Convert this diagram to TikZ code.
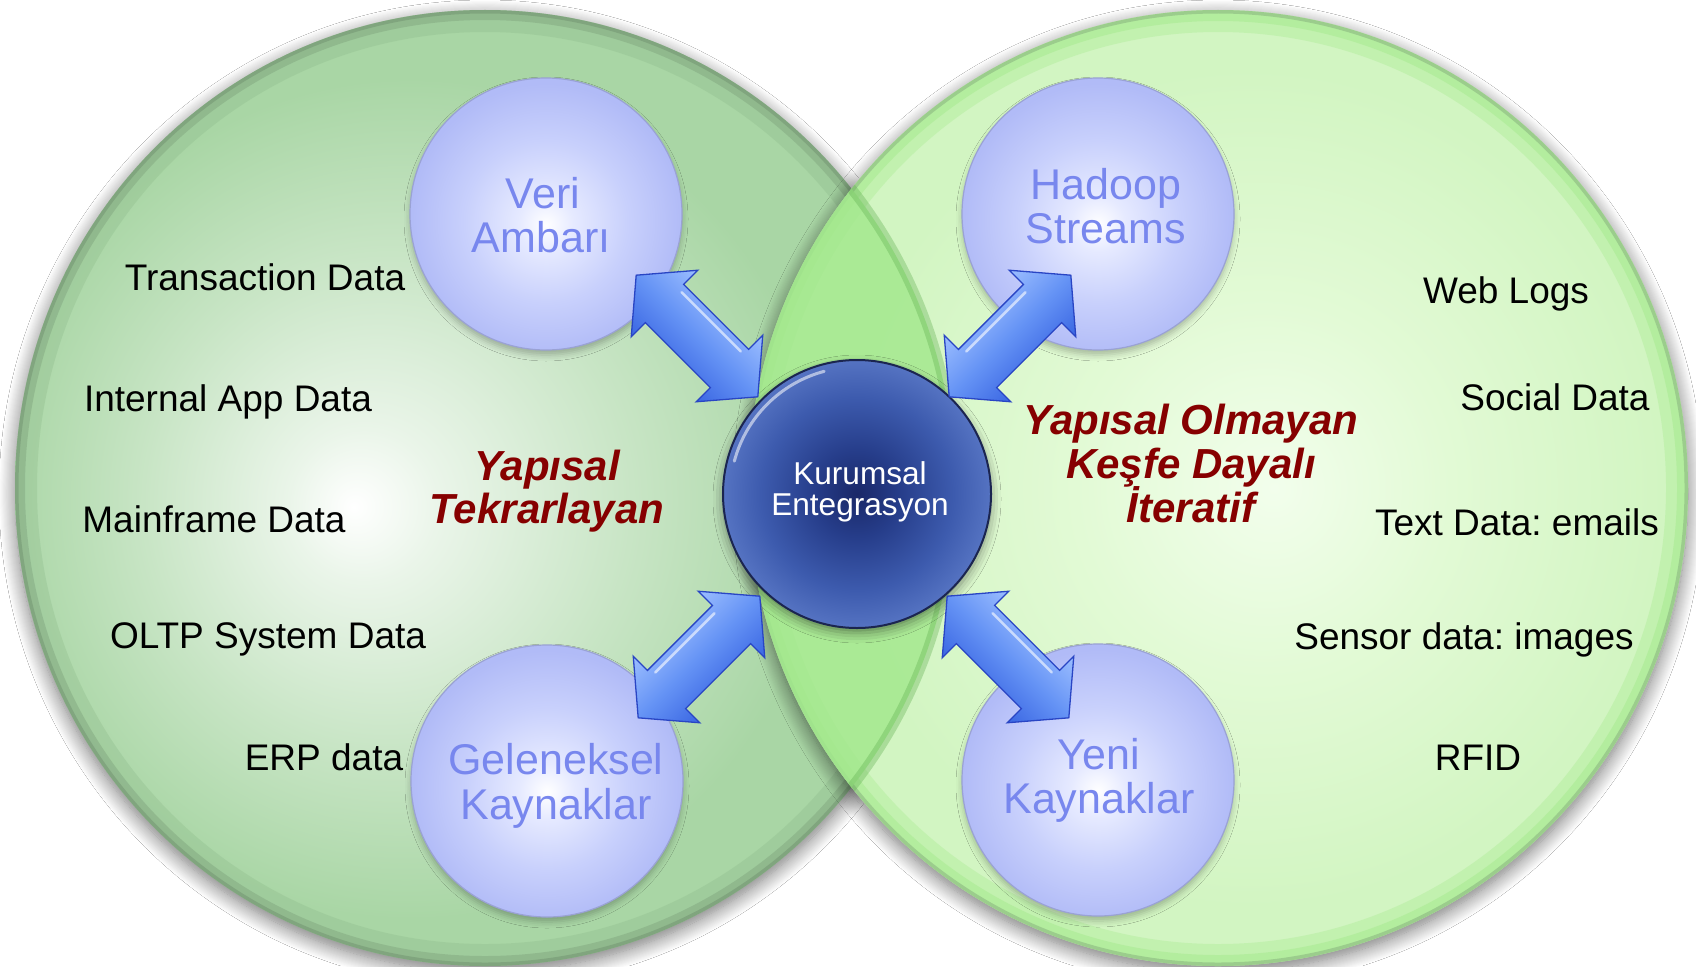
\documentclass[tikz,border=0pt]{standalone}
\usepackage{fontspec}
\setmainfont{Liberation Sans}
\usetikzlibrary{shadows.blur}
\frenchspacing
\definecolor{lgA}{HTML}{EAF5E9}
\definecolor{lgB}{HTML}{C8E5C5}
\definecolor{lgC}{HTML}{A9D6A5}
\definecolor{lgD}{HTML}{8FBC8C}
\definecolor{lgE}{HTML}{6E8E6D}
\definecolor{rgA}{HTML}{F2FEEC}
\definecolor{rgB}{HTML}{E2FAD5}
\definecolor{rgC}{HTML}{D2F5C2}
\definecolor{rgD}{HTML}{A6EA8E}
\definecolor{rgE}{HTML}{7FA878}
\definecolor{lensg}{HTML}{A2E88C}
\definecolor{lense}{HTML}{5FAE4E}
\definecolor{lavA}{HTML}{E6EAFF}
\definecolor{lavB}{HTML}{C8D0FC}
\definecolor{lavC}{HTML}{B1BBF7}
\definecolor{lavedge}{HTML}{9AA2D4}
\definecolor{lavtext}{HTML}{7887EE}
\definecolor{navyA}{HTML}{1A2868}
\definecolor{navyB}{HTML}{263D8A}
\definecolor{navyC}{HTML}{3D5BAE}
\definecolor{navyD}{HTML}{5573C2}
\definecolor{navyedge}{HTML}{1B2550}
\definecolor{arrlight}{HTML}{9CBEFF}
\definecolor{arrmid}{HTML}{6593F5}
\definecolor{arrdark}{HTML}{3A66E2}
\definecolor{arredge}{HTML}{2945C4}
\definecolor{darkred}{HTML}{860000}
\pgfdeclareradialshading{leftbig}{\pgfpoint{-7bp}{-1bp}}{color(0bp)=(white); color(4bp)=(lgA); color(13bp)=(lgB); color(22bp)=(lgC); color(50bp)=(lgC)}
\pgfdeclareradialshading{rightbig}{\pgfpoint{3bp}{0bp}}{color(0bp)=(rgA); color(10bp)=(rgB); color(22bp)=(rgC); color(50bp)=(rgC)}
\pgfdeclareradialshading{lavball}{\pgfpoint{0bp}{-2bp}}{color(0bp)=(white); color(5bp)=(lavA); color(15bp)=(lavB); color(25bp)=(lavC); color(50bp)=(lavC)}
\pgfdeclareradialshading{navyball}{\pgfpoint{0bp}{0bp}}{color(0bp)=(navyA); color(8bp)=(navyB); color(18bp)=(navyC); color(25bp)=(navyD); color(50bp)=(navyD)}
\tikzset{
  dblarrow/.pic={
    \shade[top color=arrlight, bottom color=arrdark, middle color=arrmid, draw=arredge, line width=1.3pt, line join=miter]
      (-86,0) -- (-46,-47) -- (-46,-27) -- (46,-27) -- (46,-47) -- (86,0) -- (46,47) -- (46,27) -- (-46,27) -- (-46,47) -- cycle;
    \draw[white, opacity=0.6, line width=2.5pt, line cap=round] (-42,-20) -- (42,-20);
  }
}
\begin{document}
\begin{tikzpicture}[x=1pt,y=-1pt,
  bigshadow/.style={blur shadow={shadow xshift=0pt, shadow yshift=-6pt, shadow blur radius=16pt, shadow blur steps=16, shadow opacity=55}},
  smallc/.style={circle, minimum size=272pt, inner sep=0pt, shade, shading=lavball, draw=lavedge, line width=1.2pt,
    blur shadow={shadow xshift=0pt, shadow yshift=-5pt, shadow blur radius=6pt, shadow opacity=25}},
  ctrc/.style={circle, minimum size=268pt, inner sep=0pt, shade, shading=navyball, draw=navyedge, line width=2pt,
    blur shadow={shadow xshift=0pt, shadow yshift=-5pt, shadow blur radius=10pt, shadow opacity=45}},
  lbl/.style={font=\fontsize{37}{40}\selectfont, anchor=base, inner sep=0pt},
  inlbl/.style={font=\fontsize{43}{44}\selectfont, text=lavtext, anchor=base, inner sep=0pt},
  redlbl/.style={font=\fontsize{42}{44}\selectfont\bfseries\itshape, text=darkred, anchor=base, inner sep=0pt},
  ctrlbl/.style={font=\fontsize{31.6}{32}\selectfont, text=white, anchor=base, inner sep=0pt}]
\useasboundingbox (0,0) rectangle (1696,966);
\fill[white] (0,0) rectangle (1696,966);
% left big circle
\shade[shading=leftbig, bigshadow] (485,488) ellipse [x radius=470, y radius=478];
\begin{scope}
  \clip (485,488) ellipse [x radius=470, y radius=478];
  \draw[lgD, opacity=0.35, line width=44pt] (485,488) ellipse [x radius=470, y radius=478];
  \draw[lgE, opacity=0.3, line width=20pt] (485,488) ellipse [x radius=470, y radius=478];
  \draw[lgE, opacity=0.45, line width=7pt] (485,488) ellipse [x radius=470, y radius=478];
\end{scope}
% right big circle
\shade[shading=rightbig, bigshadow] (1218,488) ellipse [x radius=470, y radius=478];
\begin{scope}
  \clip (1218,488) ellipse [x radius=470, y radius=478];
  \draw[rgD, opacity=0.35, line width=44pt] (1218,488) ellipse [x radius=470, y radius=478];
  \draw[rgD, opacity=0.5, line width=22pt] (1218,488) ellipse [x radius=470, y radius=478];
  \draw[rgE, opacity=0.45, line width=7pt] (1218,488) ellipse [x radius=470, y radius=478];
\end{scope}
% lens
\begin{scope}
  \clip (1218,488) ellipse [x radius=470, y radius=478];
  \fill[lensg, opacity=0.82] (485,488) ellipse [x radius=470, y radius=478];
  \draw[lense, opacity=0.35, line width=10pt] (485,488) ellipse [x radius=470, y radius=478];
\end{scope}
% small circles
\node[smallc] (veri) at (546,214) {};
\node[smallc] (hadoop) at (1098,214) {};
\node[smallc] (gel) at (547,781) {};
\node[smallc] (yeni) at (1098,780) {};
% centre
\node[ctrc] (ctr) at (857,494) {};
\draw[white, opacity=0.55, line width=3pt, line cap=round] ([shift={(195:127)}]ctr.center) arc[start angle=195, end angle=255, radius=127];
% arrows
\begin{scope}[transform canvas={shift={(697,336)}, rotate=-45}] \pic {dblarrow}; \end{scope}
\begin{scope}[transform canvas={shift={(1010,336)}, rotate=45}] \pic {dblarrow}; \end{scope}
\begin{scope}[transform canvas={shift={(699,657)}, rotate=45}] \pic {dblarrow}; \end{scope}
\begin{scope}[transform canvas={shift={(1008,657)}, rotate=-45}] \pic {dblarrow}; \end{scope}
% texts in small circles
\node[inlbl] (veri1) at (543,208) {Veri};
\node[inlbl] (veri2) at (541,252) {Ambarı};
\node[inlbl] (had1) at (1106,199) {Hadoop};
\node[inlbl] (had2) at (1106,243) {Streams};
\node[inlbl] (gel1) at (556,774) {Geleneksel};
\node[inlbl] (gel2) at (556,819) {Kaynaklar};
\node[inlbl] (yeni1) at (1099,769) {Yeni};
\node[inlbl] (yeni2) at (1099,813) {Kaynaklar};
% centre text
\node[ctrlbl] (c1) at (860,484) {Kurumsal};
\node[ctrlbl] (c2) at (860,515) {Entegrasyon};
% red labels
\node[redlbl] (r1) at (547,480) {Yapısal};
\node[redlbl] (r2) at (547,523) {Tekrarlayan};
\node[redlbl] (r3) at (1191,434) {Yapısal Olmayan};
\node[redlbl] (r4) at (1191,478) {Keşfe Dayalı};
\node[redlbl] (r5) at (1191,522) {İteratif};
% left list
\node[lbl] (l1) at (265,290) {Transaction Data};
\node[lbl] (l2) at (228,411) {Internal App Data};
\node[lbl] (l3) at (214,532) {Mainframe Data};
\node[lbl] (l4) at (268,648) {OLTP System Data};
\node[lbl] (l5) at (324,770) {ERP data};
% right list
\node[lbl] (w1) at (1506,303) {Web Logs};
\node[lbl] (w2) at (1555,410) {Social Data};
\node[lbl] (w3) at (1517,535) {Text Data: emails};
\node[lbl] (w4) at (1464,649) {Sensor data: images};
\node[lbl] (w5) at (1478,770) {RFID};
\end{tikzpicture}
\end{document}
